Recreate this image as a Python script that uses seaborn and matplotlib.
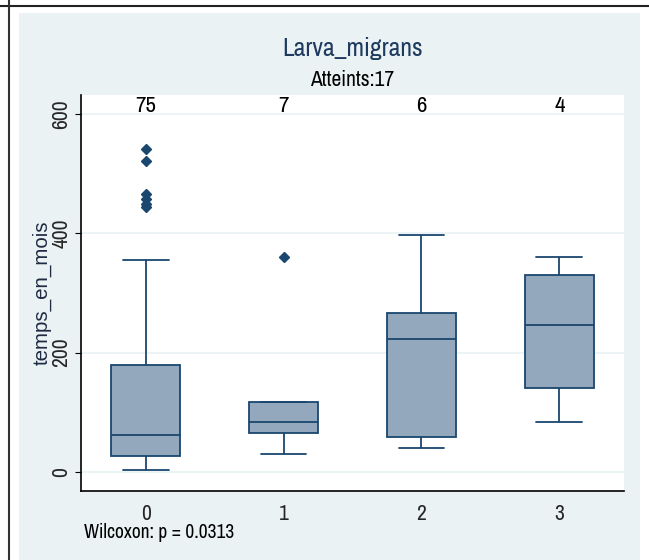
import matplotlib
matplotlib.use('Agg')
import matplotlib.pyplot as plt
import pandas as pd
import seaborn as sns
from matplotlib.patches import Rectangle
from matplotlib.lines import Line2D

# data (temps_en_mois per group)
groupes = ['0', '1', '2', '3']
g0 = [3, 8, 12, 15, 18, 21, 24, 27, 30, 36, 42, 48, 53, 58, 62,
      75, 90, 110, 130, 150, 165, 180, 355,
      444, 450, 457, 466, 522, 542]
g1 = [30, 65, 65, 83, 118, 118, 361]
g2 = [40, 59, 223, 266, 398]
g3 = [84, 140, 247, 330, 360]
effectifs = [75, 7, 6, 4]
y_ticks = [0, 200, 400, 600]

titre = 'Larva_migrans'
sous_titre = 'Atteints:17'
note = 'Wilcoxon: p = 0.0313'

df = pd.DataFrame({
    'groupe': ['0'] * len(g0) + ['1'] * len(g1) + ['2'] * len(g2) + ['3'] * len(g3),
    'temps_en_mois': g0 + g1 + g2 + g3,
})

navy = '#1A476F'
bg = '#EAF2F3'
narrow = ['Archivo Narrow', 'Liberation Sans', 'DejaVu Sans']

sns.set_theme(style='white')
plt.rcParams['font.family'] = narrow

fig = plt.figure(figsize=(6.49, 5.60), dpi=100)
fig.patch.set_facecolor('white')

# stata-like outer background + page lines
fig.add_artist(Rectangle((19/649, 0), (640-19)/649, 1-13/560, transform=fig.transFigure,
                         facecolor=bg, edgecolor='none', zorder=0))
fig.add_artist(Line2D([0, 1], [1-6/560, 1-6/560], transform=fig.transFigure, color='#222222', lw=1.5))
fig.add_artist(Line2D([8.5/649, 8.5/649], [0, 1], transform=fig.transFigure, color='#333333', lw=1.5))

ax = fig.add_axes([81/649, 1-491/560, (624-81)/649, (491-95)/560])
ax.set_facecolor('white')

sns.boxplot(data=df, x='groupe', y='temps_en_mois', order=groupes, width=0.5,
            color='#93A8BC', saturation=1, linecolor=navy, linewidth=1.3,
            flierprops=dict(marker='D', markerfacecolor=navy, markeredgecolor=navy, markersize=5.5),
            ax=ax)

# widen caps a bit (stata style)
for ln in ax.lines:
    xd, yd = ln.get_xdata(), ln.get_ydata()
    if len(xd) == 2 and yd[0] == yd[1] and abs(abs(xd[1] - xd[0]) - 0.25) < 1e-6:
        c = (xd[0] + xd[1]) / 2
        ln.set_xdata([c - 0.165, c + 0.165])

ax.set_xlim(-0.47, 3.47)
ax.set_ylim(-32, 632)
ax.set_yticks(y_ticks)
ax.yaxis.grid(True, color=bg, lw=1.2)
ax.set_axisbelow(True)

for s in ['top', 'right']:
    ax.spines[s].set_visible(False)
for s in ['left', 'bottom']:
    ax.spines[s].set_color('black')
    ax.spines[s].set_linewidth(1.2)

ax.tick_params(axis='y', labelrotation=90, length=4, width=0.8, color='black', labelsize=15.5, pad=3, left=True)
ax.tick_params(axis='x', length=0, labelsize=15.5, pad=9)
for t in ax.get_yticklabels():
    t.set_va('center')
ax.set_xlabel('')
ax.set_ylabel('temps_en_mois', fontsize=14.8, family=['Liberation Sans', 'DejaVu Sans'],
              color='#1F2A44', labelpad=0)

for i, n in enumerate(effectifs):
    ax.text(i, 613, str(n), ha='center', va='center', fontsize=16.5, color='black')

fig.text(352.5/649, 1-48/560, titre, ha='center', va='center', fontsize=18.5, color='#1E3A5F')
fig.text(352.5/649, 1-80/560, sous_titre, ha='center', va='center', fontsize=15.5, color='black')
fig.text(84/649, 1-532/560, note, ha='left', va='center', fontsize=14, color='black')

fig.savefig('out.png', dpi=100)
